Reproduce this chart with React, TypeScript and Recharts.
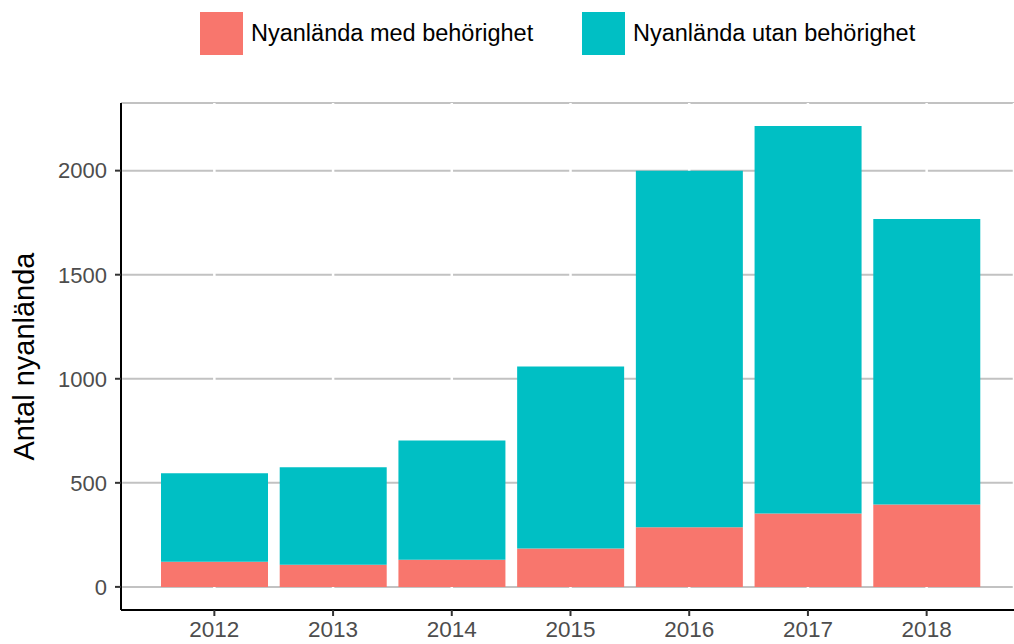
import { BarChart, Bar, XAxis, YAxis, CartesianGrid, Legend } from 'recharts';

const years = ['2012', '2013', '2014', '2015', '2016', '2017', '2018'];
const medBehorighet = [121, 106, 131, 184, 286, 353, 396];
const utanBehorighet = [425, 469, 573, 875, 1714, 1861, 1372];
const yTicks = [0, 500, 1000, 1500, 2000];

const seriesNames = ['Nyanlända med behörighet', 'Nyanlända utan behörighet'];
const seriesColors = ['#F8766D', '#00BFC4'];
const legendLeft = [200, 582];

const data = years.map((year, i) => ({
  year,
  med: medBehorighet[i],
  utan: utanBehorighet[i],
}));

const font = '"Liberation Sans", Arial, sans-serif';

function TopLegend() {
  return (
    <div style={{ position: 'relative', height: 43, fontFamily: font }}>
      {seriesNames.map((name, i) => (
        <div
          key={name}
          style={{ position: 'absolute', left: legendLeft[i], top: 0, display: 'flex', alignItems: 'center' }}
        >
          <div style={{ width: 43, height: 43, background: seriesColors[i] }} />
          <span style={{ marginLeft: 8, fontSize: 23.5, color: '#000', whiteSpace: 'nowrap' }}>{name}</span>
        </div>
      ))}
    </div>
  );
}

export default function App() {
  return (
    <div style={{ position: 'absolute', left: 0, top: 0, width: 1014, height: 644, background: '#fff' }}>
      <BarChart
        width={1014}
        height={644}
        data={data}
        margin={{ top: 60, right: 0, bottom: 0, left: 0 }}
        style={{ fontFamily: font }}
      >
        <Legend
          verticalAlign="top"
          align="left"
          content={() => <TopLegend />}
          wrapperStyle={{ top: 12, left: 0, width: 1014 }}
        />
        <CartesianGrid vertical={false} stroke="#C2C2C2" strokeWidth={2} />
        <CartesianGrid horizontal={false} stroke="#FFFFFF" strokeWidth={2.5} />
        <XAxis
          dataKey="year"
          height={34}
          padding={{ left: 34, right: 28 }}
          axisLine={{ stroke: '#000', strokeWidth: 2 }}
          tickLine={{ stroke: '#333', strokeWidth: 2 }}
          tickSize={6}
          tickMargin={5}
          tick={{ fill: '#4D4D4D', fontSize: 22.5 }}
        />
        <YAxis
          width={121}
          domain={[-111, 2325]}
          ticks={yTicks}
          allowDataOverflow
          axisLine={{ stroke: '#000', strokeWidth: 2 }}
          tickLine={{ stroke: '#333', strokeWidth: 2 }}
          tickSize={6}
          tickMargin={8}
          tick={{ fill: '#4D4D4D', fontSize: 22 }}
          label={{
            value: 'Antal nyanlända',
            angle: -90,
            position: 'center',
            dx: -37,
            style: { fill: '#000', fontSize: 29, textAnchor: 'middle' },
          }}
        />
        <Bar dataKey="med" stackId="a" fill={seriesColors[0]} barSize={107} isAnimationActive={false} />
        <Bar dataKey="utan" stackId="a" fill={seriesColors[1]} barSize={107} isAnimationActive={false} />
      </BarChart>
    </div>
  );
}
